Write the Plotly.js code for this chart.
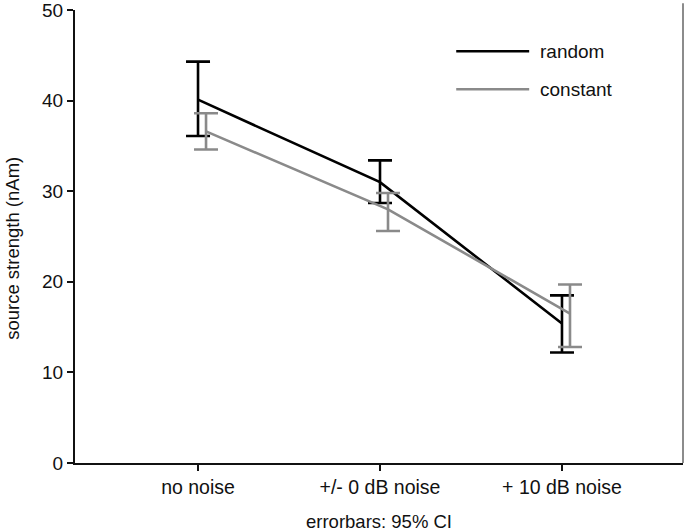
<!DOCTYPE html>
<html>
<head>
<meta charset="utf-8">
<script src="https://cdn.plot.ly/plotly-3.0.1.min.js"></script>
<style>html,body{margin:0;padding:0;background:#fff;}#chart{width:685px;height:532px;}</style>
</head>
<body>
<div id="chart"></div>
<script>
const categories = ["no noise", "+/- 0 dB noise", "+ 10 dB noise"];
const randomMean = [40.1, 31.0, 15.4];
const randomUpper = [44.3, 33.4, 18.5];
const randomLower = [36.1, 28.7, 12.2];
const constantMean = [36.6, 28.0, 16.5];
const constantUpper = [38.6, 29.8, 19.7];
const constantLower = [34.6, 25.6, 12.8];
const yTicks = [0, 10, 20, 30, 40, 50];

const catIdx = categories.map((c, i) => i);
const shift = 0.044;
const FONT = "Liberation Sans, Arial, sans-serif";

function trace(mean, upper, lower, xs, color, name) {
  return {
    type: "scatter", mode: "lines", name: name,
    x: xs, y: mean,
    line: {color: color, width: 2.6},
    error_y: {
      type: "data", symmetric: false,
      array: upper.map((u, i) => u - mean[i]),
      arrayminus: mean.map((m, i) => m - lower[i]),
      color: color, thickness: 2.6, width: 12
    },
    showlegend: false
  };
}

const data = [
  trace(randomMean, randomUpper, randomLower, catIdx, "#000000", "random"),
  trace(constantMean, constantUpper, constantLower, catIdx.map(i => i + shift), "#8a8a8a", "constant")
];

const layout = {
  width: 685, height: 532,
  margin: {l: 75, r: 2, t: 10, b: 69},
  paper_bgcolor: "#ffffff", plot_bgcolor: "#ffffff",
  font: {family: FONT, size: 19, color: "#111"},
  xaxis: {
    range: [-0.676, 2.665],
    tickvals: catIdx, ticktext: categories,
    showgrid: false, zeroline: false,
    showline: true, linecolor: "#111", linewidth: 2,
    ticks: "outside", ticklen: 6, tickwidth: 2, tickcolor: "#111",
    ticklabeloverflow: "allow",
    tickfont: {family: FONT, size: 19.5, color: "#111"},
    title: {text: "errorbars: 95% CI", font: {family: FONT, size: 18.5, color: "#111"}, standoff: 18}
  },
  yaxis: {
    range: [0, 50],
    tickvals: yTicks,
    showgrid: false, zeroline: false,
    showline: true, linecolor: "#111", linewidth: 2,
    ticks: "outside", ticklen: 6, tickwidth: 2, tickcolor: "#111",
    ticklabeloverflow: "allow",
    tickfont: {family: FONT, size: 19, color: "#111"}
  },
  shapes: [
    {type: "line", xref: "paper", yref: "paper", x0: 0.627, x1: 0.747, y0: 0.909, y1: 0.909, line: {color: "#000000", width: 2.6}},
    {type: "line", xref: "paper", yref: "paper", x0: 0.627, x1: 0.747, y0: 0.825, y1: 0.825, line: {color: "#8a8a8a", width: 2.6}},
    {type: "line", xref: "paper", yref: "paper", x0: 1, x1: 1, y0: 0, y1: 1.015, line: {color: "#666666", width: 1.5}}
  ],
  annotations: [
    {xref: "paper", yref: "paper", x: 0.762, y: 0.909, xanchor: "left", yanchor: "middle", text: "random", showarrow: false, font: {family: FONT, size: 19, color: "#111"}},
    {xref: "paper", yref: "paper", x: 0.762, y: 0.825, xanchor: "left", yanchor: "middle", text: "constant", showarrow: false, font: {family: FONT, size: 19, color: "#111"}},
    {xref: "paper", yref: "paper", x: -0.102, y: 0.475, xanchor: "center", yanchor: "middle", textangle: -90, text: "source strength (nAm)", showarrow: false, font: {family: FONT, size: 18.5, color: "#111"}}
  ]
};

Plotly.newPlot("chart", data, layout, {displayModeBar: false, staticPlot: true});
</script>
</body>
</html>
